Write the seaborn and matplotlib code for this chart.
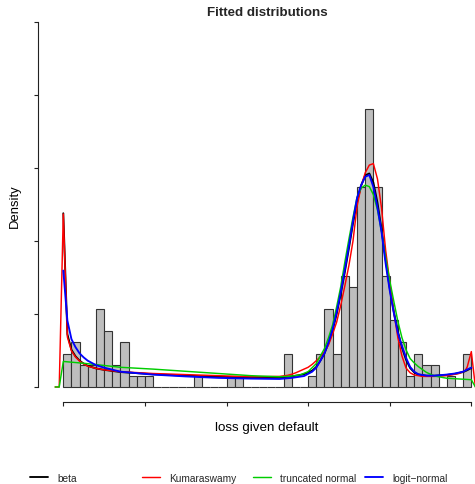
import numpy as np
import pandas as pd
import matplotlib
matplotlib.use("Agg")
import matplotlib.pyplot as plt
import seaborn as sns

# ---------------- data ----------------
bin_edges = [round(0.02 * i, 2) for i in range(51)]
bin_counts = [3, 4, 2, 2, 7, 5, 2, 4, 1, 1,
              1, 0, 0, 0, 0, 0, 1, 0, 0, 0,
              1, 1, 0, 0, 0, 0, 0, 3, 0, 0,
              1, 3, 7, 3, 10, 9, 18, 25, 18, 10,
              6, 4, 1, 3, 2, 2, 0, 1, 0, 3]

beta_x = [0.0, 0.01, 0.02, 0.03, 0.04, 0.05, 0.06, 0.08, 0.10, 0.14, 0.22, 0.30, 0.38, 0.46,
          0.53, 0.56, 0.59, 0.61, 0.62, 0.63, 0.64, 0.65, 0.66, 0.67, 0.68, 0.69, 0.70, 0.71,
          0.72, 0.73, 0.74, 0.75, 0.76, 0.77, 0.78, 0.79, 0.80, 0.81, 0.82, 0.83, 0.84, 0.85,
          0.86, 0.87, 0.89, 0.91, 0.94, 0.96, 0.98, 0.99, 1.0]
beta_y = [4.76, 1.45, 1.02, 0.84, 0.72, 0.64, 0.58, 0.51, 0.47, 0.41, 0.35, 0.31, 0.28, 0.26,
          0.26, 0.29, 0.35, 0.45, 0.55, 0.72, 0.92, 1.20, 1.55, 2.00, 2.55, 3.15, 3.80, 4.48,
          5.08, 5.52, 5.80, 5.85, 5.60, 5.05, 4.32, 3.50, 2.72, 2.07, 1.52, 1.08, 0.75, 0.52,
          0.40, 0.34, 0.31, 0.31, 0.33, 0.36, 0.41, 0.46, 0.52]

kuma_x = [-0.02, -0.01, 0.0, 0.01, 0.02, 0.03, 0.04, 0.05, 0.06, 0.08, 0.10, 0.14, 0.22, 0.30,
          0.38, 0.46, 0.53, 0.55, 0.56, 0.57, 0.58, 0.60, 0.61, 0.62, 0.63, 0.64, 0.65, 0.66,
          0.67, 0.68, 0.69, 0.70, 0.71, 0.72, 0.73, 0.74, 0.75, 0.76, 0.77, 0.78, 0.79, 0.80,
          0.81, 0.82, 0.83, 0.84, 0.85, 0.86, 0.88, 0.91, 0.94, 0.97, 0.985, 0.99, 1.0, 1.01]
kuma_y = [0.0, 0.0, 4.74, 1.37, 0.99, 0.82, 0.71, 0.63, 0.57, 0.51, 0.47, 0.42, 0.37, 0.34,
          0.31, 0.28, 0.29, 0.32, 0.35, 0.39, 0.44, 0.54, 0.62, 0.72, 0.83, 0.97, 1.15, 1.45,
          1.78, 2.24, 2.77, 3.33, 4.00, 4.95, 5.50, 5.87, 6.08, 6.12, 5.70, 4.90, 3.75, 2.88,
          2.05, 1.35, 0.85, 0.52, 0.39, 0.33, 0.29, 0.29, 0.31, 0.37, 0.45, 0.55, 0.97, 0.0]

tnorm_x = [-0.02, -0.01, 0.0, 0.05, 0.10, 0.14, 0.22, 0.30, 0.38, 0.46, 0.53, 0.56, 0.58, 0.60,
           0.62, 0.63, 0.64, 0.65, 0.66, 0.67, 0.68, 0.69, 0.70, 0.71, 0.72, 0.73, 0.74, 0.75,
           0.76, 0.77, 0.78, 0.79, 0.80, 0.81, 0.82, 0.83, 0.84, 0.85, 0.86, 0.87, 0.88, 0.89,
           0.91, 0.94, 0.97, 1.0, 1.01]
tnorm_y = [0.0, 0.0, 0.70, 0.65, 0.59, 0.54, 0.49, 0.43, 0.37, 0.31, 0.28, 0.30, 0.33, 0.42,
           0.64, 0.85, 1.05, 1.35, 1.70, 2.20, 2.75, 3.42, 4.05, 4.65, 5.20, 5.45, 5.53, 5.49,
           5.27, 4.85, 4.25, 3.55, 2.92, 2.35, 1.80, 1.35, 1.02, 0.78, 0.66, 0.56, 0.48, 0.40,
           0.30, 0.24, 0.22, 0.20, 0.0]

logit_x = [0.0, 0.01, 0.02, 0.03, 0.04, 0.05, 0.06, 0.08, 0.10, 0.14, 0.22, 0.30, 0.38, 0.46,
           0.53, 0.56, 0.59, 0.61, 0.62, 0.63, 0.64, 0.65, 0.66, 0.67, 0.68, 0.69, 0.70, 0.71,
           0.72, 0.73, 0.74, 0.75, 0.76, 0.77, 0.78, 0.79, 0.80, 0.81, 0.82, 0.83, 0.84, 0.85,
           0.86, 0.87, 0.89, 0.91, 0.94, 0.96, 0.98, 0.99, 1.0]
logit_y = [3.19, 1.82, 1.31, 1.09, 0.92, 0.81, 0.72, 0.60, 0.53, 0.42, 0.34, 0.29, 0.25, 0.23,
           0.22, 0.25, 0.30, 0.42, 0.53, 0.72, 0.92, 1.22, 1.58, 2.05, 2.60, 3.22, 3.87, 4.55,
           5.18, 5.53, 5.76, 5.81, 5.48, 4.92, 4.25, 3.38, 2.65, 2.03, 1.48, 1.12, 0.80, 0.55,
           0.42, 0.35, 0.31, 0.31, 0.34, 0.37, 0.42, 0.48, 0.53]

series = [("beta", beta_x, beta_y, "black"),
          ("Kumaraswamy", kuma_x, kuma_y, "#FF0000"),
          ("truncated normal", tnorm_x, tnorm_y, "#00CD00"),
          ("logit\u2212normal", logit_x, logit_y, "#0000FF")]

x_ticks = [0, 0.2, 0.4, 0.6, 0.8, 1.0]
y_ticks = [0, 2, 4, 6, 8, 10]

# ---------------- figure ----------------
sns.set_theme(style="ticks")
plt.rcParams["font.family"] = ["Liberation Sans", "DejaVu Sans"]

W, H = 475, 485
fig = plt.figure(figsize=(W / 100, H / 100), dpi=100)
ax_l, ax_r, ax_t, ax_b = 38, 496, -2, 403
ax = fig.add_axes([ax_l / W, 1 - ax_b / H, (ax_r - ax_l) / W, (ax_b - ax_t) / H])

edges_arr = np.asarray(bin_edges)
hist_df = pd.DataFrame({"mid": (edges_arr[:-1] + edges_arr[1:]) / 2,
                        "count": np.asarray(bin_counts, dtype=float)})
sns.histplot(data=hist_df, x="mid", weights="count", bins=bin_edges, stat="density",
             color="#BEBEBE", edgecolor="#333333", linewidth=0.8, alpha=1, ax=ax)

handles = []
for name, xs, ys, col in series:
    df = pd.DataFrame({"x": xs, "y": ys})
    lw = 1.35 if name.startswith("logit") or name == "beta" else 1.05
    sns.lineplot(data=df, x="x", y="y", sort=False, estimator=None, color=col,
                 linewidth=lw, ax=ax, legend=False)
    handles.append((ax.lines[-1], name))

ax.set_xlim(-0.062, 1.0605)
ax.set_ylim(-0.411, 10.685)
ax.set_xticks(x_ticks)
ax.set_yticks(y_ticks)
ax.tick_params(labelleft=False, labelbottom=False, length=3, width=0.8, color="#222222")
for s in ["top", "right"]:
    ax.spines[s].set_visible(False)
ax.spines["left"].set_bounds(0, 10)
ax.spines["bottom"].set_bounds(0, 1)
for s in ["left", "bottom"]:
    ax.spines[s].set_linewidth(0.8)
    ax.spines[s].set_color("#222222")

ax.set_ylabel("Density", fontsize=9.4, va="center", color="black")
ax.yaxis.set_label_coords((14.7 - ax_l) / (ax_r - ax_l), (ax_b - 206.5) / (ax_b - ax_t))
ax.set_xlabel("loss given default", fontsize=9.6, va="center", color="black")
ax.xaxis.set_label_coords(0.5, (ax_b - 428) / (ax_b - ax_t))
ax.set_title("Fitted distributions", fontsize=9.6, fontweight="bold", va="center",
             y=(ax_b - 13) / (ax_b - ax_t), pad=0)

leg_x = [30, 142, 253, 365]
for (h, name), lx in zip(handles, leg_x):
    fig.legend([h], [name], loc="center left", bbox_to_anchor=(lx / W, 1 - 479 / H),
               frameon=False, fontsize=7.3, borderpad=0, borderaxespad=0,
               handlelength=1.8, handletextpad=0.9)

fig.savefig("out.png", dpi=100)
